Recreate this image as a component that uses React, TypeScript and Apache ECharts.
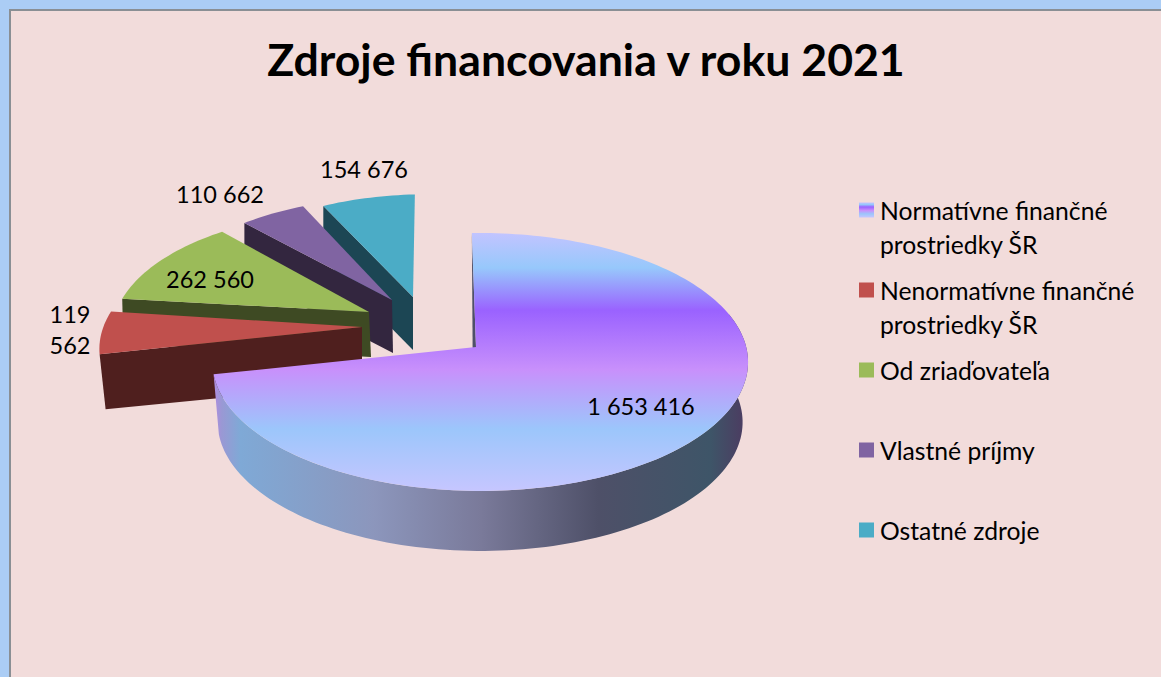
import React, { useEffect, useRef } from "react";
import * as echarts from "echarts";

const titleText = "Zdroje financovania v roku 2021";
const categories = [
  "Normatívne finančné\nprostriedky ŠR",
  "Nenormatívne finančné\nprostriedky ŠR",
  "Od zriaďovateľa",
  "Vlastné príjmy",
  "Ostatné zdroje",
];
const values = [1653416, 119562, 262560, 110662, 154676];

const topColors = ["", "#C0504D", "#9BBB59", "#8064A2", "#4BACC6"];
const wallColors = ["#4E5068", "#4F1F1E", "#3E4A23", "#33263F", "#1C4654"];
const mainTopStops: [number, string][] = [
  [0, "#C2C4FF"],
  [0.135, "#97C8FB"],
  [0.3, "#9A62FF"],
  [0.53, "#C890FB"],
  [0.76, "#9CC6FB"],
  [1, "#C6C6FF"],
];
const mainRimStops: [number, string][] = [
  [0, "#B08CE0"],
  [0.015, "#9A98D4"],
  [0.05, "#7FA9D6"],
  [0.3, "#8C96BC"],
  [0.5, "#7A7A9A"],
  [0.72, "#4E5068"],
  [0.93, "#3E5568"],
  [0.985, "#4A3F62"],
  [1, "#4D3F66"],
];

// slice layout (explosion apex, radius factor at the slice's two edges, perspective
// correction of the closing edge, wall offsets, label centre)
const apexes = [[476, 347], [362, 327], [369, 312], [392, 300], [413, 297]];
const scalesStart = [1, 1, 0.96, 0.9, 0.88];
const scalesEnd = [1, 0.98, 0.92, 0.9, 0.9];
const endShift = [0, 1, 1.3, 0.8, 1.5];
const wallOuter = [[0, 0], [6, 55], [1, 45], [0, 53], [0, 53]];
const wallApex = [[-3, 60], [0, 57], [2, 45], [1, 53], [0, 53]];
const labelPos = [[641, 406], [70, 329], [210, 279], [220, 194], [364, 169]];
const seriesZ = [6, 5, 4, 3, 2];
const START_ANGLE = -1;
const RX = 266;
const RY = 127.2;
const K = 0.116;
const M = 0.0155;
const RIM_SHRINK = 0.98;
const RIM_DEPTH = 60;
const FONT = "Lato, 'Open Sans', sans-serif";
const LABEL_SIZE = 23.5;

const total = values.reduce((a, b) => a + b, 0);
const angles: [number, number][] = [];
{
  let acc = START_ANGLE;
  for (const v of values) {
    const sweep = (v / total) * 360;
    angles.push([acc, acc + sweep]);
    acc += sweep;
  }
}

function project(deg: number, i: number): [number, number] {
  const f = (deg - angles[i][0]) / (angles[i][1] - angles[i][0]);
  const t = ((deg + endShift[i] * f) * Math.PI) / 180;
  const X = Math.sin(t);
  const Y = -Math.cos(t);
  const w = 1 - K * Y - M * X;
  const s = scalesStart[i] + (scalesEnd[i] - scalesStart[i]) * f;
  return [apexes[i][0] + (s * RX * X) / w, apexes[i][1] + (s * RY * Y) / w];
}

function arc(a0: number, a1: number, i: number): [number, number][] {
  const n = Math.max(8, Math.ceil(Math.abs(a1 - a0) / 1.5));
  const out: [number, number][] = [];
  for (let s = 0; s <= n; s++) out.push(project(a0 + ((a1 - a0) * s) / n, i));
  return out;
}

function formatValue(v: number): string {
  return String(v).replace(/\B(?=(\d{3})+(?!\d))/g, " ");
}

function gradient(horizontal: boolean, stops: [number, string][]) {
  return new echarts.graphic.LinearGradient(
    0,
    0,
    horizontal ? 1 : 0,
    horizontal ? 0 : 1,
    stops.map(([offset, color]) => ({ offset, color }))
  );
}

function renderSlice(i: number) {
  return (_params: any, api: any) => {
    const value = api.value(0);
    const [a0, a1] = angles[i];
    const outer = project(a0, i);
    const apex = apexes[i];
    const children: any[] = [];
    children.push({
      type: "polygon",
      shape: {
        points: [
          outer,
          apex,
          [apex[0] + wallApex[i][0], apex[1] + wallApex[i][1]],
          [outer[0] + wallOuter[i][0], outer[1] + wallOuter[i][1]],
        ],
      },
      style: { fill: wallColors[i] },
    });
    if (i === 0) {
      const rimTop = arc(75, a1, 0);
      const rimLow = rimTop
        .map(([x, y]) => [apex[0] + (x - apex[0]) * RIM_SHRINK, y + RIM_DEPTH])
        .reverse();
      children.push({
        type: "polygon",
        shape: { points: [...rimTop, ...rimLow] },
        style: { fill: gradient(true, mainRimStops) },
      });
    }
    children.push({
      type: "polygon",
      shape: { points: [apex, ...arc(a0, a1, i)] },
      style: { fill: i === 0 ? gradient(false, mainTopStops) : topColors[i] },
    });
    const text = formatValue(value);
    children.push({
      type: "text",
      style: {
        text: i === 1 ? text.replace(" ", "\n") : text,
        x: labelPos[i][0],
        y: labelPos[i][1],
        align: "center",
        verticalAlign: "middle",
        fill: "#000000",
        fontFamily: FONT,
        fontSize: LABEL_SIZE,
        lineHeight: 31,
      },
    });
    return { type: "group", children };
  };
}

export default function App() {
  const ref = useRef<HTMLDivElement>(null);
  useEffect(() => {
    document.body.style.margin = "0";
    document.body.style.overflow = "hidden";
    const chart = echarts.init(ref.current!, null, { renderer: "svg" });
    chart.setOption({
      animation: false,
      backgroundColor: "#ABCDF5",
      graphic: [
        {
          type: "rect",
          z: 0,
          shape: { x: 10, y: 10, width: 1160, height: 680 },
          style: { fill: "#F2DCDB", stroke: "#8A8F94", lineWidth: 2 },
        },
      ],
      title: {
        text: titleText,
        left: 581,
        top: 31,
        textAlign: "center",
        textStyle: { fontFamily: FONT, fontWeight: "bold", fontSize: 44.6, color: "#000000" },
      },
      legend: {
        orient: "vertical",
        left: 854,
        top: 154,
        icon: "rect",
        itemWidth: 15,
        itemHeight: 15,
        itemGap: -22,
        selectedMode: false,
        formatter: (name: string) => (name.includes("\n") ? `\n${name}` : `\n${name}\n`),
        textStyle: { fontFamily: FONT, fontSize: 24.7, color: "#000000", lineHeight: 34, padding: [0, 0, 0, 1] },
        data: categories.map((name, i) => ({
          name,
          icon: "rect",
          itemStyle: { color: i === 0 ? gradient(false, mainTopStops) : topColors[i] },
        })),
      },
      series: categories.map((name, i) => ({
        type: "custom",
        name,
        coordinateSystem: "none",
        z: seriesZ[i],
        silent: true,
        itemStyle: { color: i === 0 ? "#9A62FF" : topColors[i] },
        data: [[values[i]]],
        renderItem: renderSlice(i),
      })),
    });
    return () => chart.dispose();
  }, []);
  return <div ref={ref} style={{ width: 1161, height: 677 }} />;
}
